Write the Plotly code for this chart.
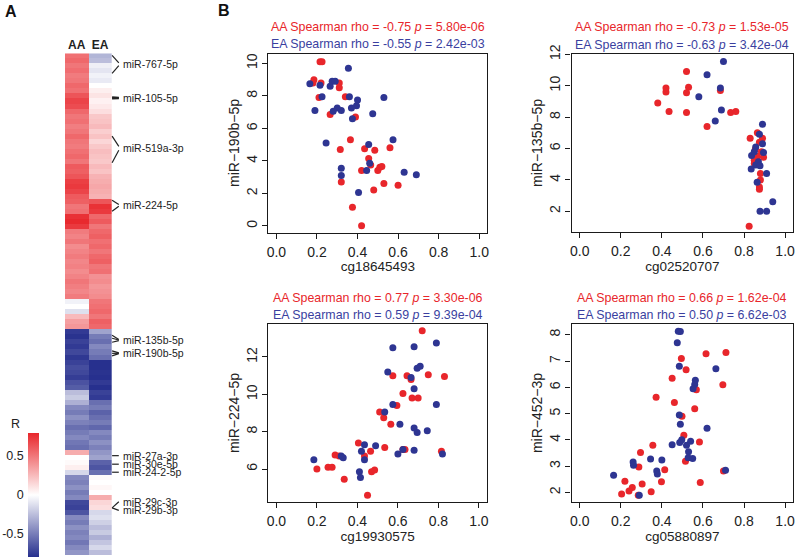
import plotly.graph_objects as go

W, H = 797, 560
FONT = "Liberation Sans, Arial, Helvetica, sans-serif"
RED = "#e8262b"
BLUE = "#2e3592"
RED_T = "#e8262b"
BLUE_T = "#3a3f9f"

# ---------------- Panel A: heatmap data (rows top -> bottom) ----------------
AA = [0.52,0.55,0.5,0.53,0.48,0.5,0.55,0.52,0.62,0.68,0.65,0.55,0.5,0.52,0.47,0.5,0.55,0.5,0.48,0.52,0.55,0.5,
      0.6,0.58,0.62,0.7,0.72,0.68,0.6,0.58,
      0.5,0.52,
      0.75,0.78,0.72,
      0.48,0.45,0.5,0.42,0.45,0.48,0.44,0.46,0.42,0.45,0.5,0.47,0.44,0.48,
      -0.05,0.0,-0.12,0.25,0.35,0.38,
      -0.75,-0.78,-0.72,-0.75,-0.7,-0.76,-0.72,-0.68,-0.7,-0.74,-0.66,-0.62,
      -0.25,-0.2,-0.3,
      -0.45,-0.5,-0.42,-0.48,-0.55,-0.5,-0.45,-0.52,-0.55,
      0.3,
      0.0,0.02,
      0.06,
      -0.15,
      -0.45,-0.48,-0.42,-0.5,-0.45,
      -0.7,-0.72,-0.65,
      -0.45,-0.5,-0.42,-0.48,-0.45,-0.52,-0.45,-0.4]
EA = [-0.28,-0.25,
      -0.06,-0.1,-0.05,-0.08,
      0.0,
      0.06,0.1,0.05,0.08,0.12,
      0.2,0.22,0.25,0.18,0.22,0.15,0.2,0.24,0.22,0.2,0.25,0.22,
      0.28,0.3,0.32,0.3,0.28,
      0.62,
      0.75,0.72,
      0.55,0.6,0.5,0.55,
      0.58,0.52,0.55,0.5,0.55,0.58,0.5,0.52,
      0.4,0.42,0.38,0.4,0.42,
      0.5,0.52,0.55,0.5,0.58,0.55,
      -0.35,
      -0.5,-0.55,-0.45,-0.5,-0.55,
      -0.8,-0.82,-0.78,-0.8,-0.75,-0.8,-0.72,-0.75,
      -0.55,-0.5,-0.6,-0.55,-0.5,-0.58,
      -0.45,-0.5,-0.42,-0.48,
      -0.4,-0.35,
      -0.6,-0.65,-0.55,
      0.02,0.0,0.03,0.0,
      0.3,
      0.15,0.12,
      -0.15,-0.12,-0.18,
      -0.25,-0.2,-0.3,-0.22,-0.15,-0.25]
HEAT_COLS = ["AA", "EA"]
CB_TICKS = [-0.5, 0, 0.5]
CB_TICKTEXT = ["-0.5", "0", "0.5"]

# labelled miRNAs: (text, row of label, rows that point to it)
MIR_LABELS = [
    ("miR-767-5p", 1.7, [-0.1, 3.5]),
    ("miR-105-5p", 8.4, [8.3, 8.5]),
    ("miR-519a-3p", 18.4, [16.0, 21.3]),
    ("miR-224-5p", 29.8, [28.8, 31.0]),
    ("miR-135b-5p", 56.7, [55.7, 56.3, 57.1]),
    ("miR-190b-5p", 59.3, [58.8, 59.3, 59.8]),
    ("miR-27a-3p", 79.7, [79.7]),
    ("miR-30e-5p", 81.4, [81.4]),
    ("miR-24-2-5p", 83.0, [83.0]),
    ("miR-29c-3p", 88.9, [90.1]),
    ("miR-29b-3p", 90.6, [90.1]),
]

# ---------------- Panel B: scatter data ----------------
P1_AA_X = [0.215,0.225,0.185,0.18,0.22,0.21,0.31,0.31,0.34,0.265,0.39,0.365,0.315,0.435,0.485,0.455,0.465,0.51,0.52,0.5,0.42,0.56,0.53,0.48,0.6,0.32,0.375,0.42]
P1_AA_Y = [10.1,10.1,9.0,8.8,8.8,7.9,8.8,8.5,7.95,6.85,6.7,5.3,4.7,4.75,4.65,4.15,3.75,3.6,3.65,3.4,3.4,4.8,2.6,2.2,2.5,2.7,1.15,0.0]
P1_EA_X = [0.165,0.215,0.225,0.19,0.265,0.275,0.29,0.355,0.36,0.40,0.395,0.37,0.375,0.30,0.28,0.32,0.475,0.53,0.575,0.245,0.455,0.46,0.32,0.32,0.445,0.405,0.63,0.69]
P1_EA_Y = [8.75,8.65,7.95,7.1,8.6,8.9,8.9,9.7,7.95,7.75,7.4,7.25,6.6,7.25,7.05,7.1,6.9,7.9,5.3,5.1,5.0,3.85,3.55,3.1,3.4,2.05,3.3,3.15]

P2_AA_X = [0.38,0.42,0.42,0.435,0.52,0.53,0.52,0.52,0.62,0.685,0.735,0.76,0.83,0.865,0.875,0.89,0.855,0.885,0.865,0.895,0.85,0.85,0.88,0.88,0.875,0.875,0.825]
P2_AA_Y = [8.9,9.6,9.85,8.35,10.9,9.9,9.55,8.3,7.4,9.7,8.3,8.35,6.65,7.0,6.4,6.65,5.95,5.8,5.5,5.45,5.25,5.05,4.4,4.0,3.55,3.4,1.05]
P2_EA_X = [0.70,0.62,0.685,0.58,0.69,0.66,0.89,0.875,0.89,0.857,0.837,0.895,0.87,0.857,0.835,0.878,0.864,0.91,0.94,0.878,0.91,0.85]
P2_EA_Y = [11.55,10.7,9.85,9.3,8.45,7.75,7.55,6.9,6.3,6.1,5.55,5.75,5.15,4.95,4.7,4.9,3.85,4.4,2.6,2.0,2.0,5.8]

P3_AA_X = [0.72,0.575,0.645,0.665,0.75,0.83,0.625,0.67,0.70,0.595,0.51,0.53,0.565,0.405,0.535,0.465,0.625,0.635,0.815,0.29,0.31,0.435,0.2,0.255,0.275,0.335,0.47,0.485,0.45]
P3_AA_Y = [13.4,11.0,11.0,10.8,11.05,10.95,10.05,9.8,9.8,9.4,9.05,8.75,8.4,7.4,7.15,6.95,7.05,7.05,6.95,6.75,6.7,6.7,6.0,6.1,6.1,5.45,5.85,5.95,4.6]
P3_EA_X = [0.575,0.68,0.79,0.55,0.695,0.71,0.665,0.68,0.575,0.79,0.535,0.61,0.68,0.695,0.745,0.435,0.49,0.42,0.6,0.625,0.68,0.82,0.185,0.32,0.33,0.435,0.41,0.415]
P3_EA_Y = [12.5,12.55,12.75,11.2,11.4,11.5,10.9,10.3,9.45,9.45,9.05,8.4,8.2,7.95,8.05,7.3,7.25,6.95,6.8,7.05,7.0,6.8,6.5,6.7,6.6,6.5,5.85,5.55]

P4_AA_X = [0.615,0.712,0.495,0.518,0.45,0.697,0.568,0.372,0.461,0.56,0.498,0.507,0.583,0.356,0.296,0.414,0.288,0.515,0.398,0.587,0.70,0.22,0.256,0.24,0.204,0.304,0.348,0.285]
P4_AA_Y = [7.28,7.33,7.1,6.67,6.35,6.1,5.91,5.62,5.42,5.19,4.9,4.18,3.92,3.8,3.52,2.87,2.97,3.19,2.41,2.38,2.82,2.43,2.19,2.06,1.94,2.32,2.03,1.9]
P4_EA_X = [0.48,0.49,0.475,0.485,0.663,0.563,0.56,0.552,0.485,0.49,0.62,0.497,0.487,0.45,0.52,0.53,0.528,0.55,0.54,0.345,0.40,0.26,0.262,0.375,0.378,0.165,0.29,0.71]
P4_EA_Y = [8.14,8.13,7.7,6.8,6.71,6.27,6.11,5.95,4.95,4.6,4.44,4.01,3.9,3.82,3.8,3.55,3.32,3.29,3.95,3.27,3.24,3.16,3.04,2.82,2.7,2.66,1.9,2.85]

PANELS = [
    dict(ax=(P1_AA_X, P1_AA_Y, P1_EA_X, P1_EA_Y), xlab="cg18645493", ylab="miR\u2212190b\u22125p",
         yr=[-0.41, 10.61], yt=[0, 2, 4, 6, 8, 10],
         aa=("-0.75", "5.80e-06"), ea=("-0.55", "2.42e-03")),
    dict(ax=(P2_AA_X, P2_AA_Y, P2_EA_X, P2_EA_Y), xlab="cg02520707", ylab="miR\u2212135b\u22125p",
         yr=[0.68, 12.02], yt=[2, 4, 6, 8, 10, 12],
         aa=("-0.73", "1.53e-05"), ea=("-0.63", "3.42e-04")),
    dict(ax=(P3_AA_X, P3_AA_Y, P3_EA_X, P3_EA_Y), xlab="cg19930575", ylab="miR\u2212224\u22125p",
         yr=[4.25, 13.75], yt=[6, 8, 10, 12],
         aa=("0.77", "3.30e-06"), ea=("0.59", "9.39e-04")),
    dict(ax=(P4_AA_X, P4_AA_Y, P4_EA_X, P4_EA_Y), xlab="cg05880897", ylab="miR\u2212452\u22123p",
         yr=[1.65, 8.4], yt=[2, 3, 4, 5, 6, 7, 8],
         aa=("0.66", "1.62e-04"), ea=("0.50", "6.62e-03")),
]
X_TICKS = [0.0, 0.2, 0.4, 0.6, 0.8, 1.0]
X_TICKTEXT = ["0.0", "0.2", "0.4", "0.6", "0.8", "1.0"]

# ---------------- layout helpers (pixel boxes) ----------------
def xd(a, b):
    return [a / W, b / W]

def yd(top, bottom):
    return [1 - bottom / H, 1 - top / H]

fig = go.Figure()

# heatmap
HM_L, HM_R, HM_T, HM_B = 65.0, 111.7, 53.3, 555.0
rows = list(range(len(AA)))
z = [[a, e] for a, e in zip(AA, EA)]
CS = [[0, "#27308e"], [0.5, "#ffffff"], [1, "#e8262b"]]
ZMAX = 0.79
fig.add_trace(go.Heatmap(z=z, x=HEAT_COLS, y=rows, colorscale=CS, zmin=-ZMAX, zmax=ZMAX,
                         xaxis="x", yaxis="y", hoverinfo="skip",
                         colorbar=dict(x=27.7 / W, xanchor="left", xref="paper",
                                       y=1 - 556.7 / H, yanchor="bottom", yref="paper",
                                       len=(556.7 - 432.3) / H, lenmode="fraction",
                                       thickness=10.6, thicknessmode="pixels", xpad=0, ypad=0,
                                       outlinewidth=0, showticklabels=False, ticks="",
                                       title=dict(text="")),
                         ))
fig.update_layout(
    xaxis=dict(domain=xd(HM_L, HM_R), anchor="y", side="top", showline=False, ticks="",
               tickvals=HEAT_COLS, ticktext=["<b>%s</b>" % c for c in HEAT_COLS],
               tickfont=dict(family=FONT, size=12, color="#222"), showgrid=False, zeroline=False,
               ticklabelstandoff=1, automargin=False),
    yaxis=dict(domain=yd(HM_T, HM_B), anchor="x", range=[len(AA) - 0.5, -0.5], automargin=False,
               showticklabels=False, ticks="", showgrid=False, zeroline=False, showline=False),
)

# dummy axis for colourbar tick labels (left side)
fig.add_trace(go.Scatter(x=[], y=[], xaxis="x6", yaxis="y6", showlegend=False))
fig.update_layout(
    xaxis6=dict(domain=xd(27.7, 38.3), anchor="y6", visible=False, range=[0, 1], automargin=False),
    yaxis6=dict(domain=yd(432.3, 556.7), anchor="x6", range=[-ZMAX, ZMAX], tickvals=CB_TICKS,
                ticktext=CB_TICKTEXT, showgrid=False, zeroline=False, showline=False, ticks="",
                tickfont=dict(family=FONT, size=12.5, color="#222"), ticklabelstandoff=3,
                automargin=False),
)

anns = []
shapes = []

# miRNA labels with connectors
TX = 121.0
for text, trow, srcs in MIR_LABELS:
    anns.append(dict(text=text, x=TX / W, xref="paper", y=trow, yref="y", xanchor="left",
                     yanchor="middle", showarrow=False,
                     font=dict(family=FONT, size=10.5, color="#222")))
    for s in srcs:
        shapes.append(dict(type="line", xref="paper", yref="y", x0=HM_R / W + 0.0005, y0=s,
                           x1=(TX - 2.2) / W, y1=trow + (s - trow) * 0.15 if len(srcs) > 1 else trow,
                           line=dict(color="#222", width=1.2 if text != "miR-105-5p" else 2.2)))

# panel letters and colourbar title
anns.append(dict(text="<b>A</b>", x=3 / W, y=1 - 11 / H, xref="paper", yref="paper",
                 xanchor="left", yanchor="middle", showarrow=False,
                 font=dict(family=FONT, size=16, color="#111")))
anns.append(dict(text="<b>B</b>", x=216 / W, y=1 - 10 / H, xref="paper", yref="paper",
                 xanchor="left", yanchor="middle", showarrow=False,
                 font=dict(family=FONT, size=16, color="#111")))
anns.append(dict(text="R", x=16 / W, y=1 - 424 / H, xref="paper", yref="paper",
                 xanchor="center", yanchor="middle", showarrow=False,
                 font=dict(family=FONT, size=12.5, color="#222")))

# scatter panels
BOXES = [(268.3, 487.3, 53.5, 232.5), (571.5, 793.3, 54.0, 232.0),
         (268.3, 487.0, 324.3, 501.7), (571.5, 793.3, 324.3, 501.7)]
for k, (p, box) in enumerate(zip(PANELS, BOXES)):
    n = k + 2
    xa, ya = "x%d" % n, "y%d" % n
    ax_x, ax_y, ex_x, ex_y = p["ax"]
    fig.add_trace(go.Scatter(x=ax_x, y=ax_y, mode="markers", xaxis=xa, yaxis=ya, showlegend=False,
                             marker=dict(color=RED, size=7, line=dict(width=0))))
    fig.add_trace(go.Scatter(x=ex_x, y=ex_y, mode="markers", xaxis=xa, yaxis=ya, showlegend=False,
                             marker=dict(color=BLUE, size=7, line=dict(width=0))))
    l, r, t, b = box
    fig.layout["xaxis%d" % n] = dict(
        domain=xd(l, r), anchor=ya, range=[-0.04, 1.04], tickvals=X_TICKS, ticktext=X_TICKTEXT,
        showline=True, mirror=True, linecolor="#1a1a1a", linewidth=1.4, ticks="outside",
        ticklen=5, tickwidth=1.2, tickcolor="#1a1a1a", showgrid=False, zeroline=False,
        tickfont=dict(family=FONT, size=14, color="#222"), ticklabelstandoff=1, automargin=False,
        title=dict(text=p["xlab"], font=dict(family=FONT, size=13.5, color="#222"), standoff=1))
    fig.layout["yaxis%d" % n] = dict(
        domain=yd(t, b), anchor=xa, range=p["yr"], tickvals=p["yt"],
        showline=True, mirror=True, linecolor="#1a1a1a", linewidth=1.4, ticks="outside",
        ticklen=5, tickwidth=1.2, tickcolor="#1a1a1a", showgrid=False, zeroline=False,
        tickangle=-90, tickfont=dict(family=FONT, size=14, color="#222"), ticklabelstandoff=0,
        automargin=False,
        title=dict(text=p["ylab"], font=dict(family=FONT, size=14, color="#222"), standoff=0))
    cx = (l + r) / 2 / W
    anns.append(dict(text="AA Spearman rho = %s <i>p</i> = %s" % p["aa"], x=cx, y=1 - (t - 26.8) / H,
                     xref="paper", yref="paper", xanchor="center", yanchor="middle", showarrow=False,
                     font=dict(family=FONT, size=12.4, color=RED_T)))
    anns.append(dict(text="EA Spearman rho = %s <i>p</i> = %s" % p["ea"], x=cx, y=1 - (t - 9.2) / H,
                     xref="paper", yref="paper", xanchor="center", yanchor="middle", showarrow=False,
                     font=dict(family=FONT, size=12.4, color=BLUE_T)))

fig.update_layout(width=W, height=H, margin=dict(l=0, r=0, t=0, b=0, autoexpand=False), autosize=False,
                  paper_bgcolor="white", plot_bgcolor="white", annotations=anns, shapes=shapes,
                  showlegend=False, font=dict(family=FONT))
fig.write_html("out.html", config={"displayModeBar": False},
               post_script="document.body.style.margin='0px';document.body.style.padding='0px';")
